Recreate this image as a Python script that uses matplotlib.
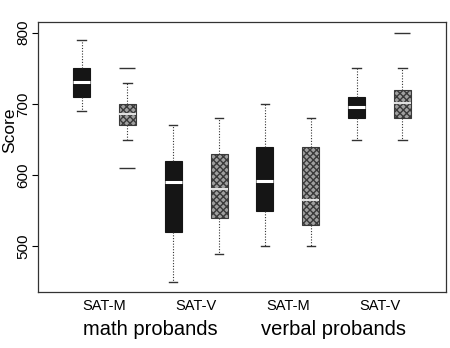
import matplotlib
matplotlib.use("Agg")
import matplotlib.pyplot as plt
import numpy as np

plt.rcParams['font.family'] = ['Liberation Sans', 'DejaVu Sans']

# box statistics (whislo, q1, med, q3, whishi, outliers)
groups = ["SAT-M", "SAT-M", "SAT-V", "SAT-V", "SAT-M", "SAT-M", "SAT-V", "SAT-V"]
whislo = [690, 650, 450, 490, 500, 500, 650, 650]
q1 = [710, 670, 520, 540, 550, 530, 680, 680]
med = [731, 686, 590, 580, 592, 565, 695, 702]
q3 = [750, 700, 620, 630, 640, 640, 710, 720]
whishi = [790, 730, 670, 680, 700, 680, 750, 750]
fliers = [[], [750, 610], [], [], [], [], [], [800]]
solid = [True, False, True, False, True, False, True, False]

pair_labels = ["SAT-M", "SAT-V", "SAT-M", "SAT-V"]
group_labels = ["math probands", "verbal probands"]
yticks = [500, 600, 700, 800]

stats = []
for i in range(len(groups)):
    stats.append(dict(whislo=whislo[i], q1=q1[i], med=med[i], q3=q3[i],
                      whishi=whishi[i], fliers=fliers[i]))

fig = plt.figure(figsize=(4.5, 3.48), dpi=100)
ax = fig.add_axes([38/450, 1-292/348, (446-38)/450, (292-22)/348])

positions = np.arange(1, len(groups)+1)
bp = ax.bxp(stats, positions=positions, widths=0.37, patch_artist=True,
            showfliers=True,
            medianprops=dict(color='white', linewidth=2.2),
            whiskerprops=dict(color='#333333', linestyle=(0, (1, 1.5)), linewidth=0.8),
            capprops=dict(color='#333333', linewidth=1.0),
            flierprops=dict(marker='_', markersize=12, markeredgecolor='#333333',
                            markeredgewidth=1.0, linestyle='none'),
            boxprops=dict(linewidth=0.8))
for patch, s in zip(bp['boxes'], solid):
    if s:
        patch.set_facecolor('#151515')
        patch.set_edgecolor('#151515')
    else:
        patch.set_facecolor('#a0a0a0')
        patch.set_edgecolor('#3a3a3a')
        patch.set_hatch('xxxxx')
for i, m in enumerate(bp['medians']):
    if not solid[i]:
        m.set_linewidth(1.5)
        m.set_color('#e0e0e0')

ax.set_xlim(0.05, 8.95)
ax.set_ylim(436, 815)
ax.set_yticks(yticks)
ax.set_yticklabels([str(t) for t in yticks], rotation=90, va='center', fontsize=11)
ax.tick_params(axis='y', length=4, width=0.8, pad=1.5)
ax.set_xticks([1.5, 3.5, 5.5, 7.5])
ax.set_xticklabels(pair_labels, fontsize=10.5)
ax.tick_params(axis='x', length=0, pad=5)
for sp in ax.spines.values():
    sp.set_linewidth(0.9)
    sp.set_color('#333333')
ax.set_ylabel("Score", fontsize=12.5)
ax.yaxis.set_label_coords(-0.05, 0.6)

for x, lab in zip([2.5, 6.5], group_labels):
    ax.text(x, -0.105, lab, transform=ax.get_xaxis_transform(), ha='center',
            va='top', fontsize=14.5)

fig.savefig("out.png", dpi=100)
